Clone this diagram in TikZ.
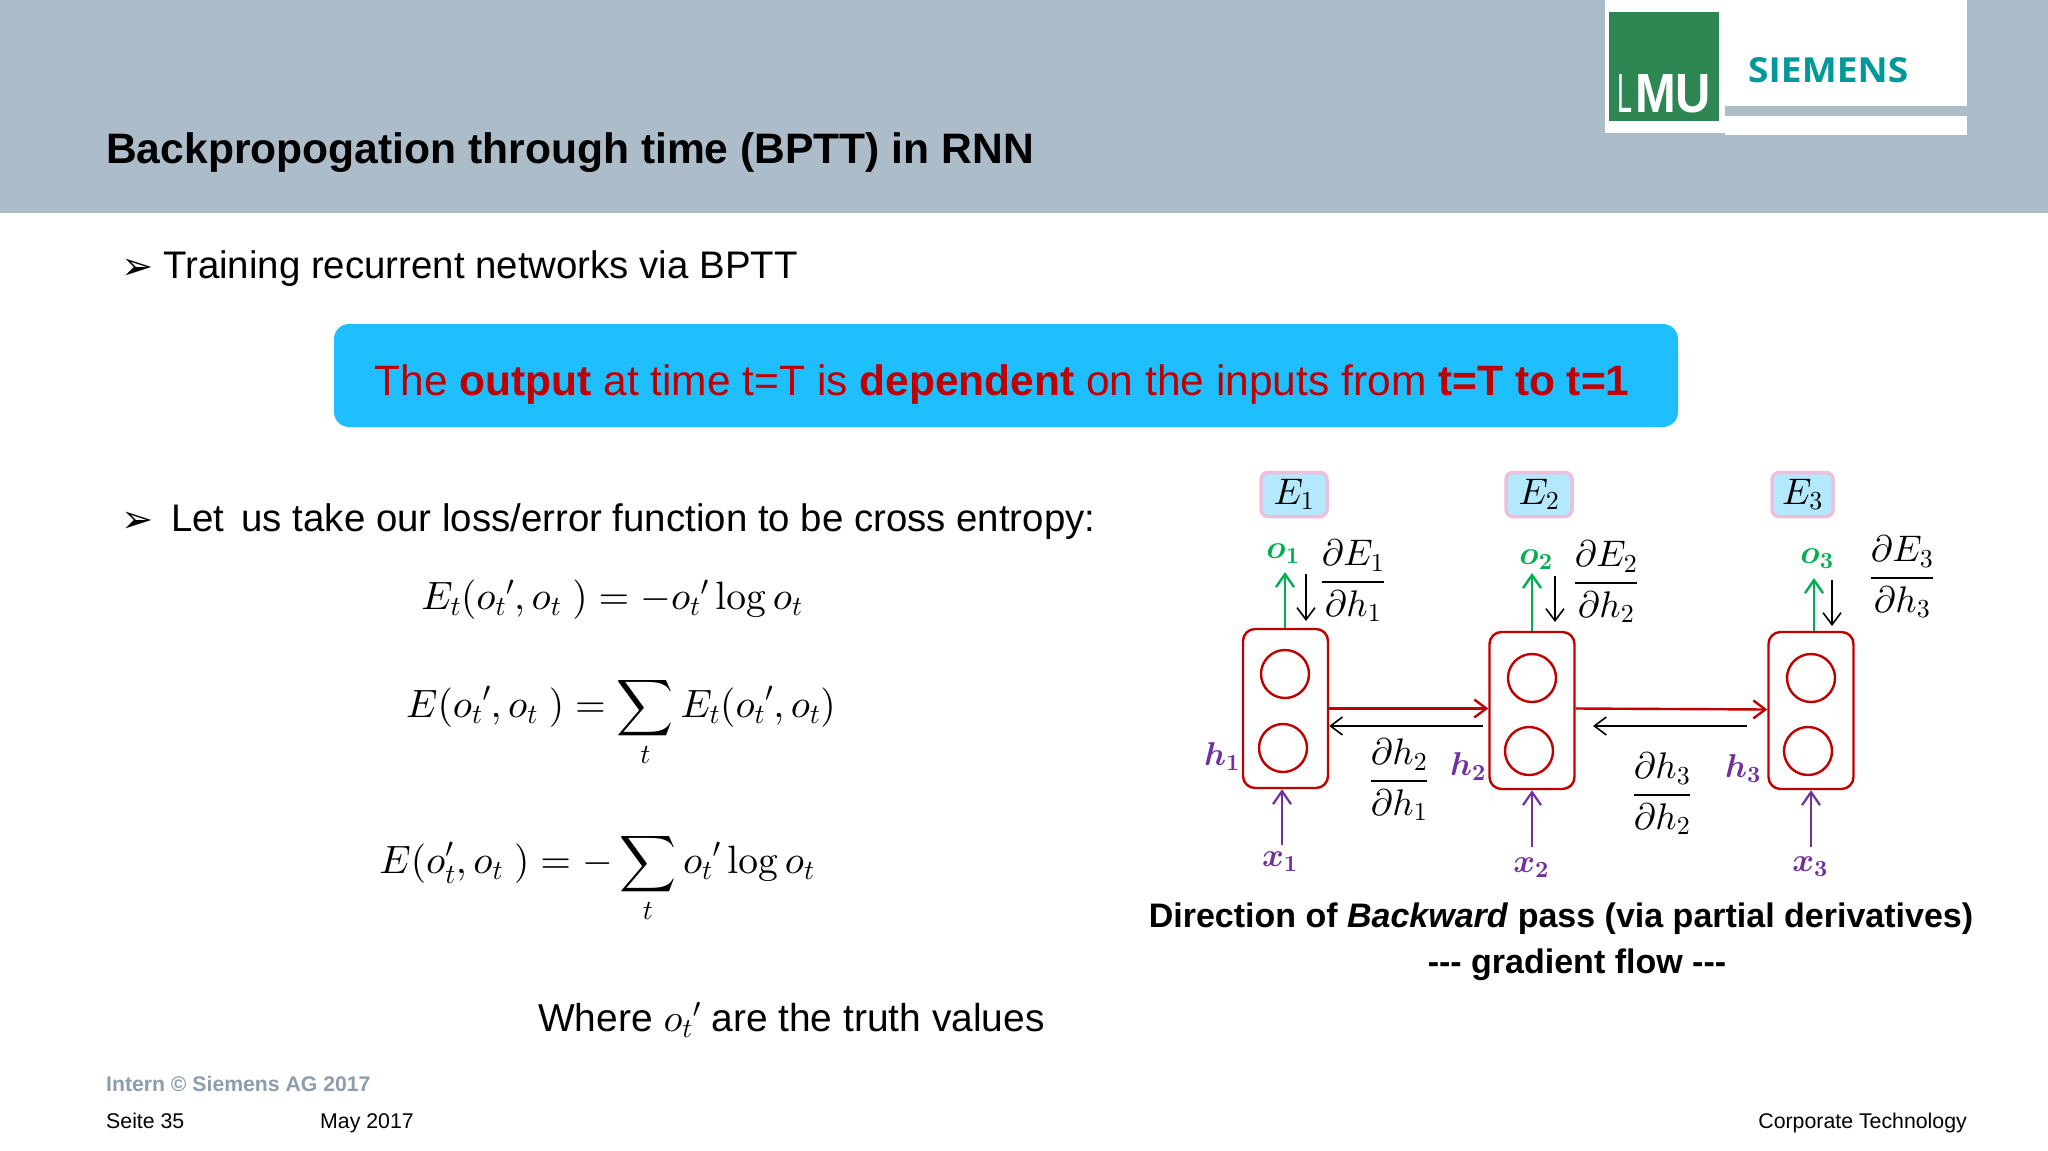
\documentclass[tikz,border=0pt]{standalone}
\usepackage{amsmath}
\usepackage{graphicx}
\usepackage[no-math]{fontspec}
\setmainfont{Liberation Sans}
\newfontfamily\symfont{DejaVu Sans}
\newfontfamily\brandfont{Open Sans}
\DeclareFontShape{OT1}{cmr}{m}{n}{<->cmr10}{}
\DeclareFontShape{OT1}{cmr}{bx}{n}{<->cmbx10}{}
\DeclareFontShape{OML}{cmm}{m}{it}{<->cmmi10}{}
\DeclareFontShape{OML}{cmm}{b}{it}{<->cmmib10}{}
\DeclareFontShape{OMS}{cmsy}{m}{n}{<->cmsy10}{}
\DeclareFontShape{OMS}{cmsy}{b}{n}{<->cmbsy10}{}
\DeclareFontShape{OMX}{cmex}{m}{n}{<->cmex10}{}
\usetikzlibrary{arrows.meta}
\definecolor{headgray}{HTML}{ADBCC9}
\definecolor{lmugreen}{HTML}{2E8752}
\definecolor{brandteal}{HTML}{009999}
\definecolor{bannerblue}{HTML}{1FBEFF}
\definecolor{cellred}{HTML}{C00000}
\definecolor{inpurple}{HTML}{7030A0}
\definecolor{outgreen}{HTML}{00B050}
\definecolor{lossblue}{HTML}{B4E8FC}
\definecolor{losspink}{HTML}{EEBFDD}
\definecolor{footgray}{HTML}{8C9DAD}
\newcommand{\pfrac}[2]{\genfrac{}{}{1.8pt}{0}{\partial #1}{\partial #2}}
\begin{document}
\begin{tikzpicture}[x=1pt, y=-1pt,
    txt/.style = {inner sep=0pt, font=\fontsize{38.4}{46}\selectfont},
    small/.style = {inner sep=0pt, font=\fontsize{21.3}{26}\selectfont},
    math/.style = {inner sep=0pt, font=\fontsize{37}{44}\selectfont},
    eqn/.style = {inner sep=0pt, font=\fontsize{39.5}{47}\selectfont},
    varlabel/.style = {inner sep=0pt, font=\fontsize{33}{40}\selectfont},
    captext/.style = {inner sep=0pt, font=\fontsize{34}{42}\selectfont\bfseries},
    cell/.style = {draw=cellred, line width=2.4pt, rounded corners=12pt, minimum width=85pt, minimum height=159pt, inner sep=0pt},
    unit/.style = {draw=cellred, line width=2.4pt, circle, minimum size=48pt, inner sep=0pt},
    loss/.style = {draw=losspink, fill=lossblue, line width=3.5pt, rounded corners=7pt, minimum height=44pt, inner sep=0pt, font=\fontsize{37}{44}\selectfont},
    redarrow/.style = {draw=cellred, line width=2.4pt, -{Straight Barb[length=12pt,width=18pt,line width=2.4pt]}},
    backarrow/.style = {draw=black, line width=1.6pt, -{Straight Barb[length=12pt,width=18pt,line width=1.6pt]}},
    greenarrow/.style = {draw=outgreen, line width=2.4pt, -{Straight Barb[length=13pt,width=18pt,line width=2.4pt]}},
    purplearrow/.style = {draw=inpurple, line width=2.2pt, -{Straight Barb[length=13pt,width=18pt,line width=2.2pt]}}]

    \useasboundingbox (0,0) rectangle (2048,1151);
    \fill[white] (0,0) rectangle (2048,1151);

    % header and logos
    \fill[headgray] (0,0) rectangle (2048,213);
    \fill[white] (1605,0) rectangle (1725,133);
    \fill[white] (1725,0) rectangle (1967,106);
    \fill[white] (1725,116) rectangle (1967,135);
    \fill[lmugreen] (1609,12) rectangle (1719,121);
    \node[inner sep=0pt, white] (lmu) at (1664,94) {\resizebox{15pt}{38pt}{L}\hspace{3pt}\resizebox{76pt}{38pt}{\textbf{MU}}};
    \node[inner sep=0pt, anchor=west, text=brandteal] (siemens) at (1748,70) {\resizebox{160pt}{25pt}{\brandfont\bfseries SIEMENS}};
    \node[inner sep=0pt, anchor=west, font=\fontsize{42.6}{48}\selectfont\bfseries] (title) at (106,153) {Backpropogation through time (BPTT) in RNN};

    % left column
    \node[txt, anchor=west] (bullet1) at (121,269) {\symfont\bfseries ➢};
    \node[txt, anchor=west] (train) at (163,269) {Training recurrent networks via BPTT};
    \node[fill=bannerblue, rounded corners=15pt, minimum width=1344pt, minimum height=103pt, inner sep=0pt] (banner) at (1006,375.5) {};
    \node[txt, anchor=center, text=cellred, font=\fontsize{42.5}{50}\selectfont] (bannertext) at (1002,385) {The \textbf{output} at time t=T is \textbf{dependent} on the inputs from \textbf{t=T to t=1}};
    \node[txt, anchor=west] (bullet2) at (121,522) {\symfont\bfseries ➢};
    \node[txt, anchor=west] (let) at (171,522) {Let\, us take our loss/error function to be cross entropy:};

    \node[eqn] (eq1) at (612,600) {$E_t({o_t}',o_t\ )=-{o_t}'\log o_t$};
    \node[eqn, anchor=mid] (eq2) at (621,715) {$\displaystyle E({o_t}',o_t\ )=\sum_t E_t({o_t}',o_t)$};
    \node[eqn, anchor=mid] (eq3) at (597,871) {$\displaystyle E(o_t',o_t\ )=-\sum_t {o_t}'\log o_t$};
    \node[txt, anchor=west, font=\fontsize{38.9}{46}\selectfont] (truth) at (538,1020) {Where ${o_t}'$ are the truth values};

    % footer
    \node[small, anchor=west, text=footgray, font=\fontsize{21.2}{26}\selectfont\bfseries] (intern) at (106,1084) {Intern © Siemens AG 2017};
    \node[small, anchor=base west] (page) at (106,1128) {Seite 35};
    \node[small, anchor=base west] (date) at (320,1128) {May 2017};
    \node[small, anchor=base east] (corp) at (1967,1128) {Corporate Technology};

    % network
    \node[cell] (cell1) at (1285.5,708.5) {};
    \node[cell, minimum height=157pt] (cell2) at (1532,710.5) {};
    \node[cell, minimum height=157pt] (cell3) at (1811,710.5) {};
    \node[unit] (top1) at (1285,674) {};
    \node[unit] (bot1) at (1283,748) {};
    \node[unit] (top2) at (1532,678) {};
    \node[unit] (bot2) at (1529,751) {};
    \node[unit] (top3) at (1811,678) {};
    \node[unit] (bot3) at (1808,751) {};

    \node[loss, minimum width=66pt] (E1) at (1294,494.5) {$E_1$};
    \node[loss, minimum width=66pt] (E2) at (1539,494.5) {$E_2$};
    \node[loss, minimum width=61pt] (E3) at (1802.5,494.5) {$E_3$};

    \node[varlabel, text=outgreen] (o1) at (1283,554) {$\boldsymbol{o_1}$};
    \node[varlabel, text=outgreen] (o2) at (1536,560) {$\boldsymbol{o_2}$};
    \node[varlabel, text=outgreen] (o3) at (1817,559) {$\boldsymbol{o_3}$};
    \node[varlabel, text=inpurple] (h1) at (1222,757) {$\boldsymbol{h_1}$};
    \node[varlabel, text=inpurple] (h2) at (1468,767) {$\boldsymbol{h_2}$};
    \node[varlabel, text=inpurple] (h3) at (1743,769) {$\boldsymbol{h_3}$};
    \node[varlabel, text=inpurple] (x1) at (1280,862) {$\boldsymbol{x_1}$};
    \node[varlabel, text=inpurple] (x2) at (1531,868) {$\boldsymbol{x_2}$};
    \node[varlabel, text=inpurple] (x3) at (1810,867) {$\boldsymbol{x_3}$};

    \node[math] (dE1) at (1353,581) {$\pfrac{E_1}{h_1}$};
    \node[math] (dE2) at (1606,582) {$\pfrac{E_2}{h_2}$};
    \node[math] (dE3) at (1902,577) {$\pfrac{E_3}{h_3}$};
    \node[math] (dh21) at (1399,780) {$\pfrac{h_2}{h_1}$};
    \node[math] (dh32) at (1662,794) {$\pfrac{h_3}{h_2}$};

    \coordinate (otip1) at (1285,572);
    \coordinate (otip2) at (1532,573);
    \coordinate (otip3) at (1814,578);
    \coordinate (dtop1) at (1306,574);
    \coordinate (dtip1) at (1306,621);
    \coordinate (dtop2) at (1555,576);
    \coordinate (dtip2) at (1555,622);
    \coordinate (dtop3) at (1832,580);
    \coordinate (dtip3) at (1832,626);
    \coordinate (xfoot1) at (1282,845);
    \coordinate (xfoot2) at (1532,847);
    \coordinate (xfoot3) at (1811,847);
    \coordinate (back1) at (1483,726);
    \coordinate (back2) at (1747,726);
    \coordinate (backend2) at (1593,726);

    \draw[redarrow] (cell1.east) -- (cell1.east -| cell2.west);
    \draw[redarrow] ([yshift=2pt]cell2.east) -- ([yshift=1pt]cell3.west);
    \draw[backarrow] (back1) -- (back1 -| cell1.east);
    \draw[backarrow] (back2) -- (backend2);

    \draw[greenarrow] (otip1 |- cell1.north) -- (otip1);
    \draw[greenarrow] (otip2 |- cell2.north) -- (otip2);
    \draw[greenarrow] (otip3 |- cell3.north) -- (otip3);
    \draw[backarrow] (dtop1) -- (dtip1);
    \draw[backarrow] (dtop2) -- (dtip2);
    \draw[backarrow] (dtop3) -- (dtip3);
    \draw[purplearrow] (xfoot1) -- (xfoot1 |- cell1.south);
    \draw[purplearrow] (xfoot2) -- (xfoot2 |- cell2.south);
    \draw[purplearrow] (xfoot3) -- (xfoot3 |- cell3.south);

    \node[captext] (capa) at (1561,919) {Direction of \textit{Backward} pass (via partial derivatives)};
    \node[captext] (capb) at (1577,965) {-{}-{}- gradient flow -{}-{}-};

\end{tikzpicture}
\end{document}
